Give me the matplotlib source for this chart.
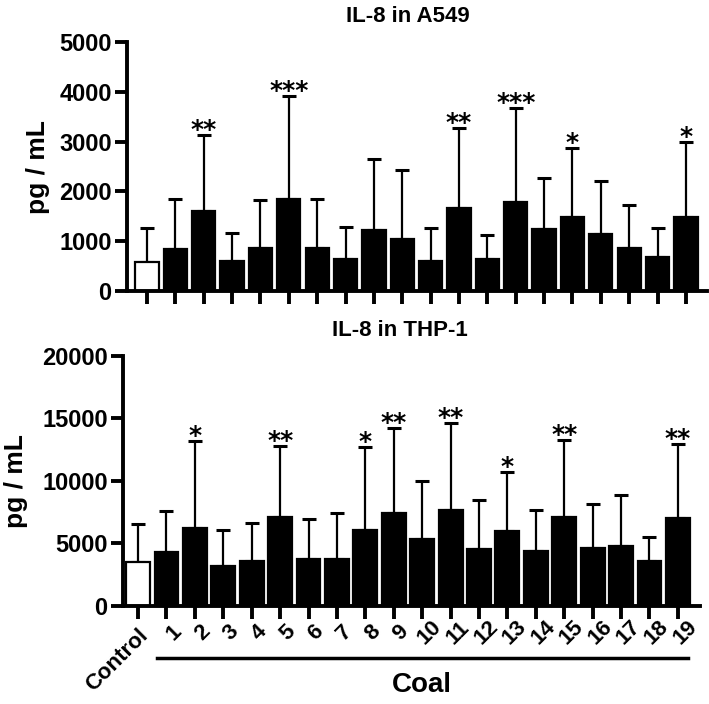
import matplotlib.pyplot as plt
import numpy as np
from matplotlib.transforms import blended_transform_factory

plt.rcParams['font.family'] = ['Liberation Sans', 'DejaVu Sans']
plt.rcParams['font.weight'] = 'bold'

groups = ['Control'] + [str(i) for i in range(1, 20)]

# IL-8 in A549 (pg/mL): bar height and top of error bar
a549_mean = [588, 837, 1600, 608, 870, 1853, 870, 636, 1231, 1038,
             596, 1673, 636, 1787, 1238, 1480, 1145, 870, 683, 1493]
a549_upper = [1259, 1841, 3133, 1171, 1833, 3922, 1841, 1278, 2651, 2430,
              1259, 3267, 1131, 3681, 2263, 2865, 2209, 1727, 1259, 2998]
a549_stars = ['', '', '**', '', '', '***', '', '', '', '',
              '', '**', '', '***', '', '*', '', '', '', '*']

# IL-8 in THP-1 (pg/mL)
thp1_mean = [3472, 4296, 6192, 3200, 3552, 7096, 3712, 3712, 6032, 7440,
             5312, 7656, 4536, 5976, 4400, 7120, 4592, 4800, 3576, 7040]
thp1_upper = [6536, 7576, 13200, 6056, 6592, 12776, 6960, 7440, 12672, 14192,
              10000, 14640, 8456, 10720, 7656, 13256, 8160, 8880, 5496, 12936]
thp1_stars = ['', '', '*', '', '', '**', '', '', '*', '**',
              '', '**', '', '*', '', '**', '', '', '', '**']


def draw_panel(ax, mean, upper, stars, ymax, step, title, xlim, width):
    x = np.arange(len(groups))
    mean = np.array(mean)
    upper = np.array(upper)
    colors = ['white'] + ['black'] * (len(groups) - 1)

    ax.errorbar(x, mean, yerr=[np.zeros_like(mean), upper - mean], fmt='none',
                ecolor='black', elinewidth=1.6, capsize=5, capthick=2.2, zorder=1)
    ax.bar(x, mean, width=width, color=colors, edgecolor='black',
           linewidth=1.6, zorder=2)

    for xi, top, s in zip(x, upper, stars):
        if s:
            ax.annotate(s, (xi, top), xytext=(0, -1.5), textcoords='offset points',
                        ha='center', va='baseline', fontsize=18,
                        family='DejaVu Sans', fontweight='bold', annotation_clip=False)

    ax.set_xlim(*xlim)
    ax.set_ylim(0, ymax)
    ax.set_yticks(np.arange(0, ymax + 1, step))
    ax.set_xticks(x)
    ax.spines['top'].set_visible(False)
    ax.spines['right'].set_visible(False)
    ax.spines['left'].set_linewidth(2.8)
    ax.spines['bottom'].set_linewidth(2.8)
    ax.tick_params(axis='both', width=2.8, length=9, labelsize=17)
    ax.tick_params(axis='y', pad=2)
    ax.set_ylabel('pg / mL', fontsize=19, fontweight='bold')
    trans = blended_transform_factory(ax.transData, ax.transAxes)
    ax.text(9.2, 1.06, title, transform=trans, ha='center', va='bottom',
            fontsize=16, fontweight='bold')


fig = plt.figure(figsize=(7.09, 7.04), dpi=100)
ax1 = fig.add_axes([0.179, 0.5866, 0.818, 0.3536])
ax2 = fig.add_axes([0.1735, 0.1396, 0.8135, 0.3551])

draw_panel(ax1, a549_mean, a549_upper, a549_stars, 5000, 1000,
           'IL-8 in A549', (-0.71, 19.74), 0.82)
draw_panel(ax2, thp1_mean, thp1_upper, thp1_stars, 20000, 5000,
           'IL-8 in THP-1', (-0.53, 19.77), 0.84)

ax1.set_xticklabels([])
ax1.yaxis.set_label_coords(-0.133, 0.5)
ax2.yaxis.set_label_coords(-0.165, 0.5)

ax2.set_xticklabels(groups, rotation=45, rotation_mode='anchor', fontsize=16)
for lab in ax2.get_xticklabels():
    lab.set_va('top')
    lab.set_ha('right' if lab.get_text() == 'Control' else 'center')
ax2.tick_params(axis='x', pad=5)

trans2 = blended_transform_factory(ax2.transData, ax2.transAxes)
ax2.plot([0.65, 19.35], [-0.208, -0.208], transform=trans2, clip_on=False,
         color='black', linewidth=2.5)
ax2.text(10, -0.317, 'Coal', transform=trans2, ha='center', va='center',
         fontsize=20, fontweight='bold')

fig.savefig('out.png', dpi=100)
